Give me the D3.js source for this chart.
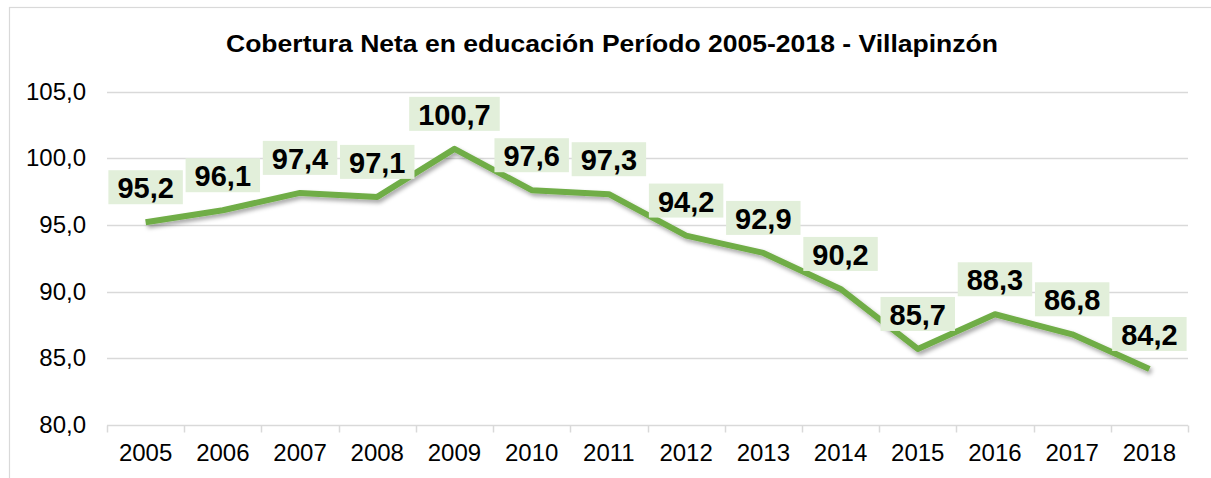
<!DOCTYPE html>
<html>
<head>
<meta charset="utf-8">
<script src="https://cdn.jsdelivr.net/npm/d3@7"></script>
<style>
  html, body { margin: 0; padding: 0; background: #fff; }
  svg { display: block; font-family: "Liberation Sans", Arial, sans-serif; }
</style>
</head>
<body>
<svg id="chart" width="1211" height="478"></svg>
<script>
const title = "Cobertura Neta en educación Período 2005-2018 - Villapinzón";
const years = ["2005","2006","2007","2008","2009","2010","2011","2012","2013","2014","2015","2016","2017","2018"];
const values = [95.2, 96.1, 97.4, 97.1, 100.7, 97.6, 97.3, 94.2, 92.9, 90.2, 85.7, 88.3, 86.8, 84.2];
const yTicks = [80, 85, 90, 95, 100, 105];

const fmt = v => d3.format(".1f")(v).replace(".", ",");

const svg = d3.select("#chart");

// outer chart border
svg.append("rect")
  .attr("x", 9.5).attr("y", 7.5).attr("width", 1220).attr("height", 500)
  .attr("fill", "#fff").attr("stroke", "#d9d9d9").attr("stroke-width", 1.2);

const defs = svg.append("defs");
const f = defs.append("filter").attr("id", "shadow")
  .attr("x", "-10%").attr("y", "-10%").attr("width", "120%").attr("height", "130%");
f.append("feDropShadow").attr("dx", 2).attr("dy", 3).attr("stdDeviation", 2)
  .attr("flood-color", "#000").attr("flood-opacity", 0.35);

const x = d3.scaleBand().domain(years).range([107, 1188]).padding(0);
const y = d3.scaleLinear().domain([80, 105]).range([425, 91.5]);

// title
svg.append("text")
  .attr("x", 612).attr("y", 52)
  .attr("text-anchor", "middle")
  .attr("font-size", 24).attr("font-weight", "bold").attr("fill", "#000")
  .attr("textLength", 772).attr("lengthAdjust", "spacingAndGlyphs")
  .text(title);

// gridlines
svg.append("g").selectAll("line").data(yTicks.filter(t => t !== 80)).join("line")
  .attr("x1", 107).attr("x2", 1188)
  .attr("y1", d => Math.round(y(d)) + 0.5).attr("y2", d => Math.round(y(d)) + 0.5)
  .attr("stroke", "#d9d9d9").attr("stroke-width", 1.3);

// y axis labels
const yAxis = d3.axisLeft(y).tickValues(yTicks).tickFormat(fmt).tickSize(0).tickPadding(21);
const gy = svg.append("g").attr("transform", "translate(107,0)").call(yAxis);
gy.select(".domain").remove();
gy.selectAll("text").attr("font-size", 24).attr("fill", "#000")
  .attr("font-family", "\"Liberation Sans\", Arial, sans-serif");

// x axis
const xAxis = d3.axisBottom(x).tickSize(0).tickPadding(18);
const gx = svg.append("g").attr("transform", "translate(0,425.5)").call(xAxis);
gx.select(".domain").attr("stroke", "#d9d9d9").attr("stroke-width", 1.5)
  .attr("d", "M107,0H1188");
gx.selectAll("text").attr("font-size", 24).attr("fill", "#000")
  .attr("font-family", "\"Liberation Sans\", Arial, sans-serif");
// band boundary tick marks
const bounds = years.map(d => x(d)).concat([x(years[years.length - 1]) + x.bandwidth()]);
gx.append("g").selectAll("line").data(bounds).join("line")
  .attr("x1", d => Math.round(d) + 0.5).attr("x2", d => Math.round(d) + 0.5)
  .attr("y1", 0).attr("y2", 7)
  .attr("stroke", "#d9d9d9").attr("stroke-width", 1.5);

// line
const pts = years.map((d, i) => ({ year: d, v: values[i], cx: x(d) + x.bandwidth() / 2, cy: y(values[i]) }));
svg.append("path")
  .datum(pts)
  .attr("d", d3.line().x(d => d.cx).y(d => d.cy))
  .attr("fill", "none").attr("stroke", "#70ad47").attr("stroke-width", 6)
  .attr("stroke-linejoin", "round").attr("stroke-linecap", "butt")
  .attr("filter", "url(#shadow)");

// data labels
const fs = 29;
const lg = svg.append("g");
const boxes = lg.append("g");
const texts = lg.append("g");
pts.forEach(p => {
  const base = p.cy - 24;
  const t = texts.append("text")
    .attr("x", p.cx).attr("y", base)
    .attr("text-anchor", "middle")
    .attr("font-size", fs).attr("font-weight", "bold").attr("fill", "#000")
    .text(fmt(p.v));
  const w = t.node().getComputedTextLength();
  boxes.append("rect")
    .attr("x", p.cx - w / 2 - 9).attr("y", base - 20 - 8)
    .attr("width", w + 18).attr("height", 20 + 14)
    .attr("fill", "#e2efda");
});
</script>
</body>
</html>
